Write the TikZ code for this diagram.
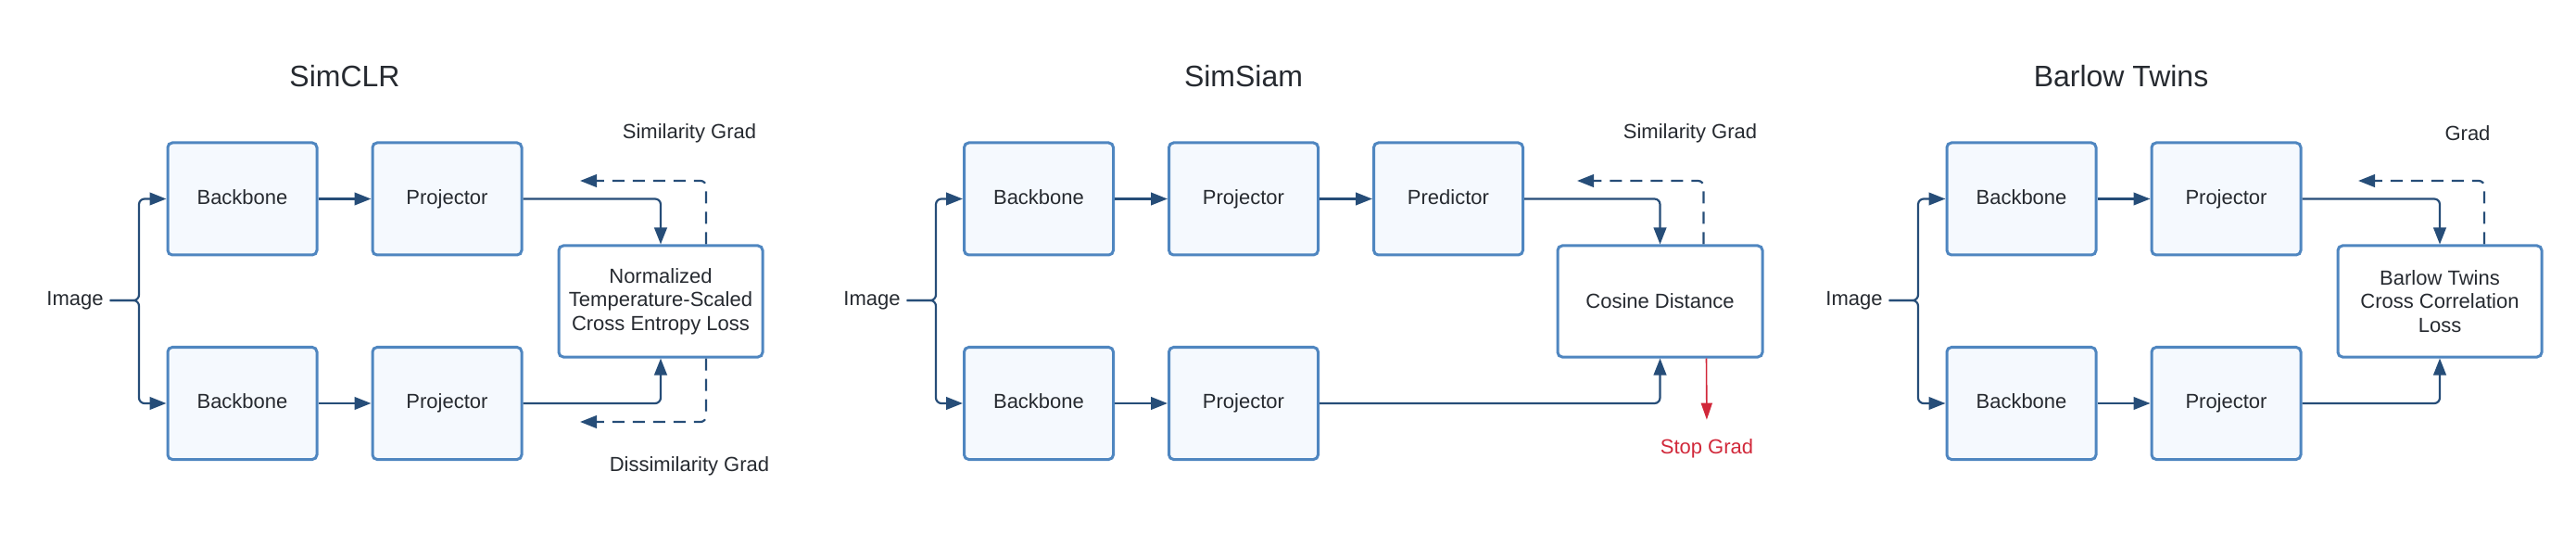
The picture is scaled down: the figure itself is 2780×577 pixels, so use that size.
\documentclass[tikz,border=0pt]{standalone}
\usepackage{fontspec}
\setmainfont{Liberation Sans}
\usepackage{xcolor}
\usetikzlibrary{arrows.meta,positioning}
\definecolor{boxline}{HTML}{4F86C0}
\definecolor{boxfill}{HTML}{F5F9FE}
\definecolor{linkcol}{HTML}{264D78}
\definecolor{txtcol}{HTML}{262A30}
\definecolor{stopred}{HTML}{D1283A}

\begin{document}
\begin{tikzpicture}[x=0.5pt,y=-0.5pt,
    font=\fontsize{11}{12.8}\selectfont, text=txtcol,
    block/.style={draw=boxline,fill=boxfill,line width=1.5pt,rounded corners=2.5pt,
        minimum width=80.5pt,minimum height=60.5pt,inner sep=0pt,
        text height=8pt,text depth=2.4pt},
    lossbox/.style={draw=boxline,fill=white,line width=1.5pt,rounded corners=2.5pt,
        minimum width=110pt,minimum height=60pt,align=center,inner sep=0pt},
    heading/.style={font=\fontsize{16}{19}\selectfont},
    link/.style={draw=linkcol,line width=1.1pt,rounded corners=3pt,
        -{Triangle[length=9pt,width=6.8pt]}},
    gradlink/.style={link,dash pattern=on 6.5pt off 4.5pt},
    stoplink/.style={draw=stopred,line width=0.8pt,-{Triangle[length=9pt,width=6pt]}}]
    \useasboundingbox (0,0) rectangle (2780,577);

    % SimCLR
    \node[heading] (clrtitle) at (372,82) {SimCLR};
    \node (clrimg) at (81,324) {Image};
    \coordinate (clrsplit) at (150,324);
    \node[block] (clrbb1) at (261.5,214.5) {Backbone};
    \node[block] (clrpr1) at (482.5,214.5) {Projector};
    \node[block] (clrbb2) at (261.5,435) {Backbone};
    \node[block] (clrpr2) at (482.5,435) {Projector};
    \node[lossbox] (clrloss) at (713,325) {Normalized\\Temperature-Scaled\\Cross Entropy Loss};
    \node (clrsim) at (744,144) {Similarity Grad};
    \node (clrdis) at (744,503) {Dissimilarity Grad};
    \coordinate (clrsimend) at (626,195);
    \coordinate (clrdisend) at (626,455);
    \draw[link] (clrimg.east) -- (clrsplit) |- (clrbb1.west);
    \draw[link] (clrimg.east) -- (clrsplit) |- (clrbb2.west);
    \draw[link] (clrbb1) -- (clrpr1);
    \draw[link] (clrbb2) -- (clrpr2);
    \draw[link] (clrpr1.east) -| (clrloss.north);
    \draw[link] (clrpr2.east) -| (clrloss.south);
    \draw[gradlink] ([xshift=24.5pt]clrloss.north) |- (clrsimend);
    \draw[gradlink] ([xshift=24.5pt]clrloss.south) |- (clrdisend);

    % SimSiam
    \begin{scope}[xshift=430pt]
    \node[heading] (siamtitle) at (482,82) {SimSiam};
    \node (siamimg) at (81,324) {Image};
    \coordinate (siamsplit) at (150,324);
    \node[block] (siambb1) at (261,214.5) {Backbone};
    \node[block] (siampr1) at (482,214.5) {Projector};
    \node[block] (siampred) at (703,214.5) {Predictor};
    \node[block] (siambb2) at (261,435) {Backbone};
    \node[block] (siampr2) at (482,435) {Projector};
    \node[lossbox,minimum width=110.5pt] (siamcos) at (931.5,325) {Cosine Distance};
    \node (siamsim) at (964,144) {Similarity Grad};
    \node[text=stopred] (siamstoplbl) at (982,484) {Stop Grad};
    \coordinate (siamsimend) at (842,195);
    \draw[link] (siamimg.east) -- (siamsplit) |- (siambb1.west);
    \draw[link] (siamimg.east) -- (siamsplit) |- (siambb2.west);
    \draw[link] (siambb1) -- (siampr1);
    \draw[link] (siampr1) -- (siampred);
    \draw[link] (siambb2) -- (siampr2);
    \draw[link] (siampred.east) -| (siamcos.north);
    \draw[link] (siampr2.east) -| (siamcos.south);
    \draw[gradlink] ([xshift=23.5pt]siamcos.north) |- (siamsimend);
    \draw[stoplink,shorten >=7pt] ([xshift=25pt]siamcos.south) -- (siamstoplbl.north);
    \end{scope}

    % Barlow Twins
    \begin{scope}[xshift=960pt]
    \node[heading] (bttitle) at (369,82) {Barlow Twins};
    \node (btimg) at (81,324) {Image};
    \coordinate (btsplit) at (150,324);
    \node[block] (btbb1) at (261.5,214.5) {Backbone};
    \node[block] (btpr1) at (482.5,214.5) {Projector};
    \node[block] (btbb2) at (261.5,435) {Backbone};
    \node[block] (btpr2) at (482.5,435) {Projector};
    \node[lossbox] (btloss) at (713,325) {Barlow Twins\\Cross Correlation\\Loss};
    \node (btgrad) at (743,144) {Grad};
    \coordinate (btgradend) at (625,195);
    \draw[link] (btimg.east) -- (btsplit) |- (btbb1.west);
    \draw[link] (btimg.east) -- (btsplit) |- (btbb2.west);
    \draw[link] (btbb1) -- (btpr1);
    \draw[link] (btbb2) -- (btpr2);
    \draw[link] (btpr1.east) -| (btloss.north);
    \draw[link] (btpr2.east) -| (btloss.south);
    \draw[gradlink] ([xshift=24pt]btloss.north) |- (btgradend);
    \end{scope}
\end{tikzpicture}
\end{document}
